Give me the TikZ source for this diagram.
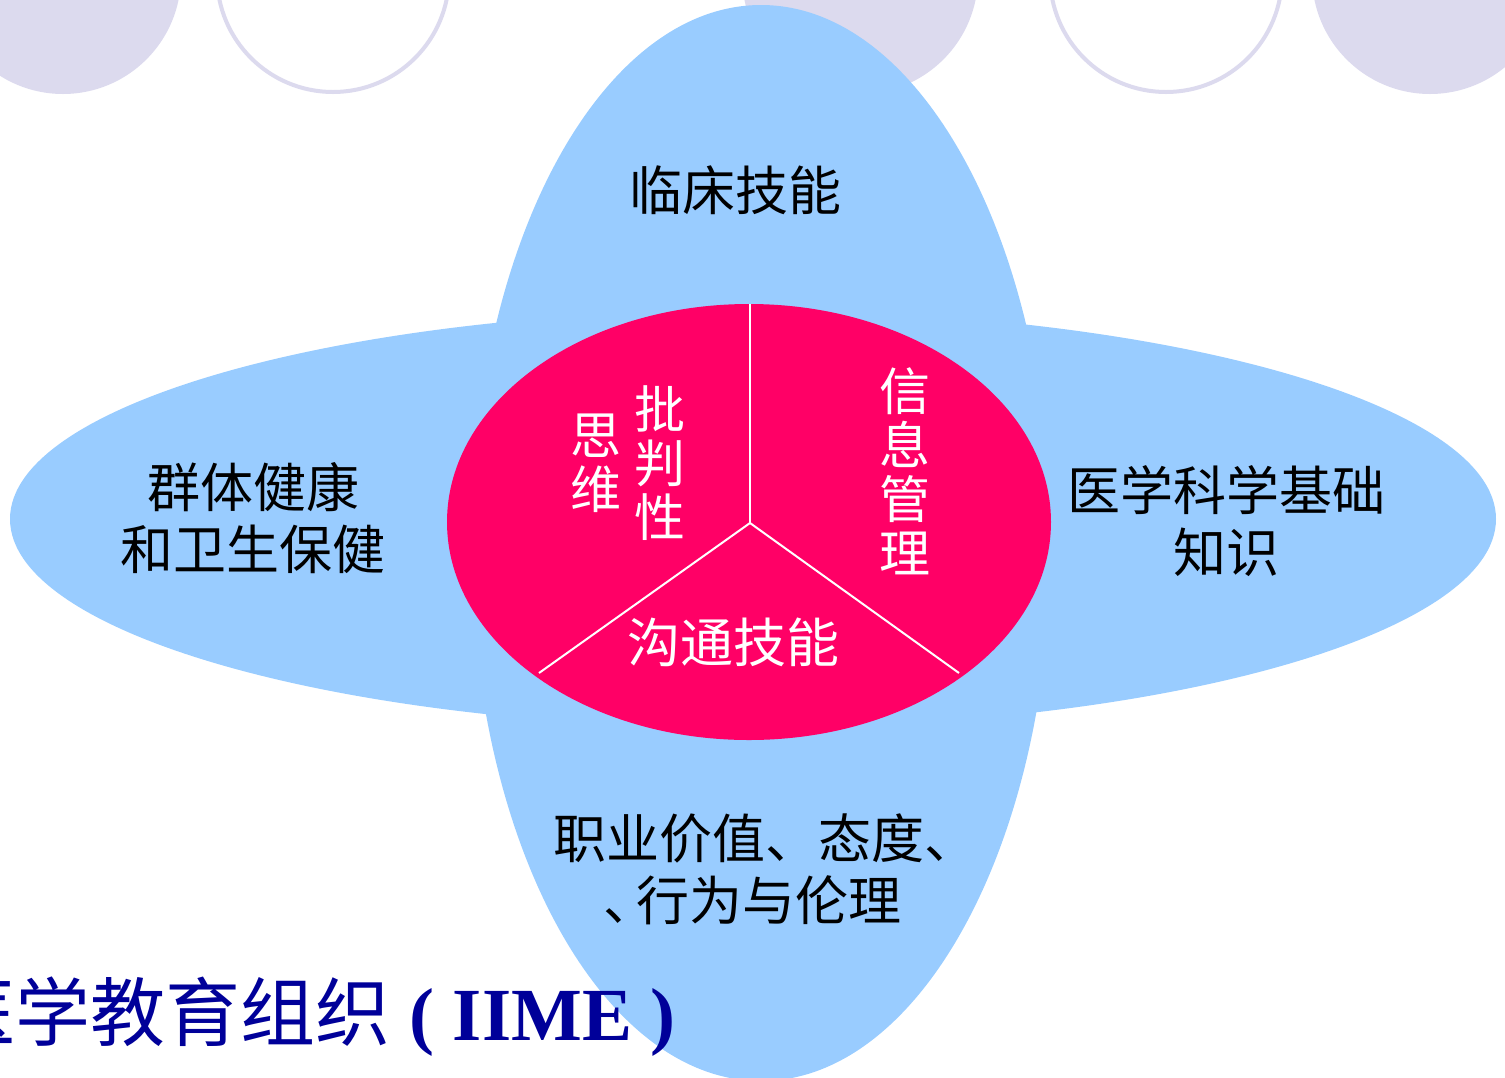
\documentclass[tikz,border=0pt]{standalone}
\usepackage{fontspec}
\newfontfamily\cjk{Noto Sans CJK SC}
\newfontfamily\tnr{Liberation Serif}
\definecolor{lav}{HTML}{DCDAEE}
\definecolor{skyb}{HTML}{99CCFF}
\definecolor{rosered}{HTML}{FF0066}
\definecolor{navy}{HTML}{000099}
\begin{document}
\begin{tikzpicture}[x=0.5pt,y=-0.5pt,
  dot/.style={fill=lav,draw=none},
  ring/.style={draw=lav,line width=2pt,fill=white},
  blk/.style={font=\cjk\fontsize{26.5pt}{31pt}\selectfont,text=black,align=center,inner sep=0pt},
  wht/.style={font=\cjk\fontsize{25.5pt}{27pt}\selectfont,text=white,align=center,inner sep=0pt},
  divider/.style={draw=white,line width=1pt}]
\useasboundingbox (0,0) rectangle (1505,1077);
\clip (0,0) rectangle (1505,1077);
% decorative circles
\fill[dot] (63,-24) circle[radius=118];
\draw[ring] (333,-24) circle[radius=116];
\fill[dot] (860,-24) circle[radius=118];
\draw[ring] (1166,-24) circle[radius=116];
\fill[dot] (1430,-24) circle[radius=118];
% blue cross of ellipses
\fill[skyb] (761,543) ellipse[x radius=290,y radius=538];
\fill[skyb] (753,519) ellipse[x radius=743,y radius=209];
% red core
\fill[rosered] (749,522) ellipse[x radius=302,y radius=218];
\coordinate (c) at (750,523);
\coordinate (ctop) at (750,304);
\coordinate (cleft) at (539,673);
\coordinate (cright) at (959,673);
\draw[divider] (c) -- (ctop);
\draw[divider] (c) -- (cleft);
\draw[divider] (c) -- (cright);
% outer labels
\node[blk] (clin) at (735,190) {临床技能};
\node[blk] (pop) at (253,518) {群体健康\\和卫生保健};
\node[blk] (sci) at (1226,521) {医学科学基础\\知识};
\node[blk] (prof1) at (765,838) {职业价值、态度、};
\node[blk] (prof2) at (752,900) {、\kern-10pt 行为与伦理};
% inner labels
\node[wht] (crit1) at (660,463) {批\\判\\性};
\node[wht] (crit2) at (596,463) {思\\维};
\node[wht] (info) at (905,471) {信\\息\\管\\理};
\node[font=\cjk\fontsize{26.5pt}{31pt}\selectfont,text=white,inner sep=0pt] (comm) at (733,642) {沟通技能};
% title
\node[anchor=base west,inner sep=0pt,text=navy] (title) at (-60,1040)
  {\cjk\fontsize{37.5pt}{40pt}\selectfont 医学教育组织\tnr\bfseries\ ( IIME )};
\end{tikzpicture}
\end{document}
